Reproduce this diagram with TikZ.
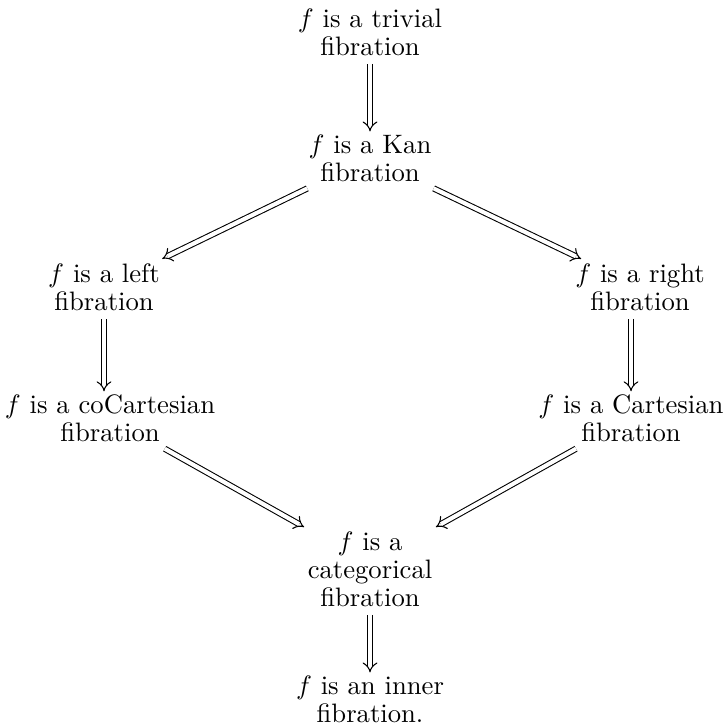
\documentclass[tikz,border=0pt]{standalone}
\usepackage{amsmath}
\usetikzlibrary{arrows.meta,positioning}

\begin{document}
\begin{tikzpicture}[x=0.375pt,y=-0.375pt,
	fib/.style={align=center,inner sep=2pt,
		execute at begin node={\setlength{\baselineskip}{10.5pt}}},
	impl/.style={double,double equal sign distance,-{Implies},shorten >=-1pt,shorten <=1pt}]
	\useasboundingbox (0,0) rectangle (724,726);
	
	\node[fib] (T)   at (370,32)  {$f$ is a trivial\\fibration};
	\node[fib] (K)   at (370,158) {$f$ is a Kan\\fibration};
	\node[fib] (L)   at (104,287) {$f$ is a left\\fibration};
	\node[fib] (R)   at (640,287) {$f$ is a right\\fibration};
	\node[fib] (CoC) at (110,418) {$f$ is a coCartesian\\fibration};
	\node[fib] (C)   at (631,418) {$f$ is a Cartesian\\fibration};
	\node[fib] (Cat) at (370,569) {$f$ is a\\categorical\\fibration};
	\node[fib] (I)   at (370,699) {$f$ is an inner\\fibration.};
	
	\draw[impl] (T) -- (K);
	\draw[impl] (K) -- (L);
	\draw[impl] (K) -- (R);
	\draw[impl] (L.south) -- (L.south |- CoC.north);
	\draw[impl] (C.north |- R.south) -- (C.north);
	\draw[impl] (CoC) -- (Cat.north west);
	\draw[impl] (C) -- (Cat.north east);
	\draw[impl] (Cat) -- (I);
\end{tikzpicture}
\end{document}
